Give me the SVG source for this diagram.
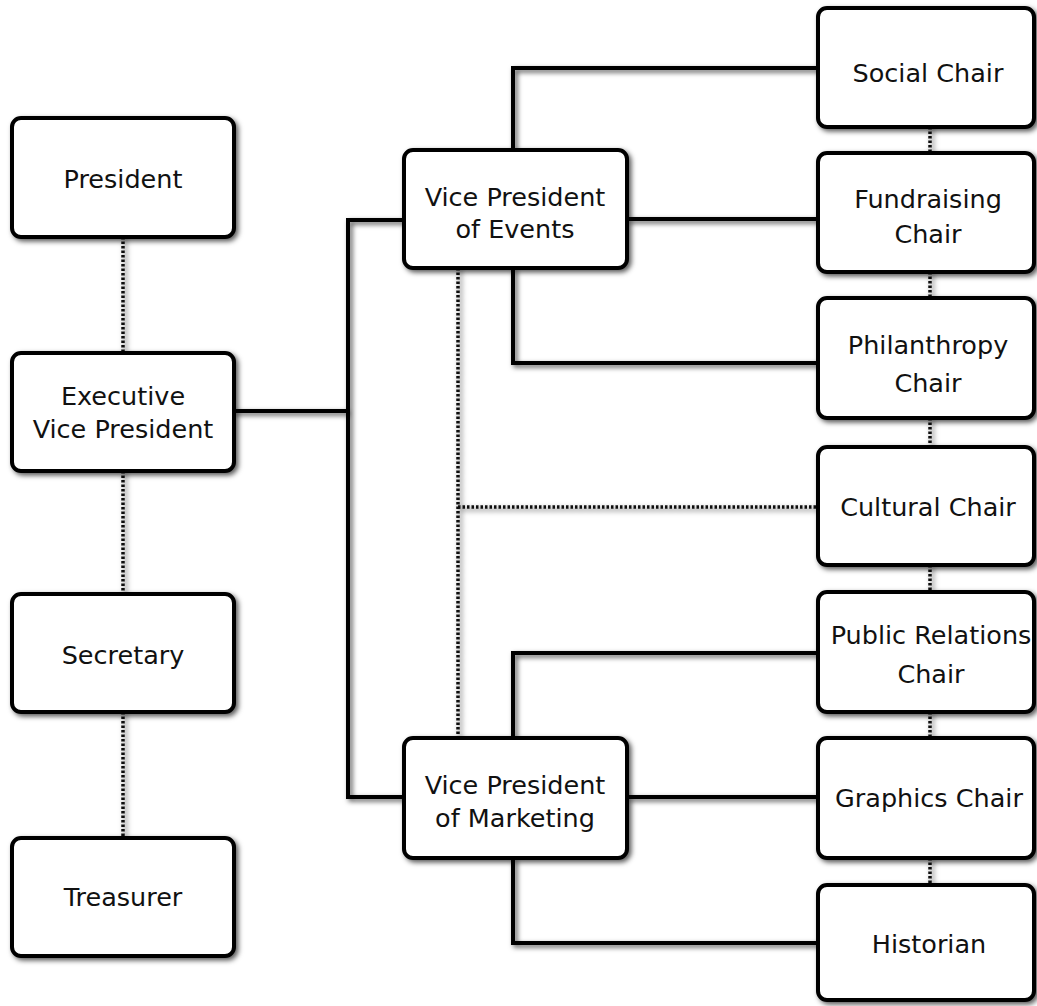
<svg xmlns="http://www.w3.org/2000/svg" width="1037" height="1006" viewBox="0 0 1037 1006">
<defs>
<filter id="sh" x="-10%" y="-10%" width="130%" height="130%">
<feDropShadow dx="2.5" dy="2.5" stdDeviation="2.5" flood-color="#000" flood-opacity="0.65"/>
</filter>
</defs>
<style>
.box{fill:#fff;stroke:#000;stroke-width:4}
.t{font-family:"DejaVu Sans",sans-serif;font-size:25.5px;fill:#111;text-anchor:middle;dominant-baseline:central}
.solid{fill:none;stroke:#000;stroke-width:4;stroke-linecap:square;stroke-linejoin:miter}
.dot{fill:none;stroke:#111;stroke-width:3.5;stroke-dasharray:2.5 2}
</style>
<rect width="1037" height="1006" fill="#fff"/>
<g id="connectors" filter="url(#sh)">
<path class="dot" d="M123 237V353M123 471V594M123 712V838"/>
<path class="dot" d="M930 127V153M930 272V298M930 418V447M930 565V592M930 712V738M930 858V885"/>
<path class="dot" d="M458 268V738M458 507H818"/>
<path class="solid" d="M235 411H348M348 220V797M348 220H403M348 797H403"/>
<path class="solid" d="M513 148V68H816M629 219H816M513 270V363H816"/>
<path class="solid" d="M513 736V653H816M629 797H816M513 860V943H816"/>
</g>
<g id="president"><rect class="box" x="12" y="118" width="222" height="119" rx="9" filter="url(#sh)"/><text class="t" x="123" y="179">President</text></g>
<g id="evp"><rect class="box" x="12" y="353" width="222" height="118" rx="9" filter="url(#sh)"/><text class="t" x="123" y="396">Executive</text><text class="t" x="123" y="429">Vice President</text></g>
<g id="secretary"><rect class="box" x="12" y="594" width="222" height="118" rx="9" filter="url(#sh)"/><text class="t" x="123" y="655">Secretary</text></g>
<g id="treasurer"><rect class="box" x="12" y="838" width="222" height="118" rx="9" filter="url(#sh)"/><text class="t" x="123" y="897">Treasurer</text></g>
<g id="vp-events"><rect class="box" x="404" y="150" width="223" height="118" rx="9" filter="url(#sh)"/><text class="t" x="515" y="197">Vice President</text><text class="t" x="515" y="229">of Events</text></g>
<g id="vp-marketing"><rect class="box" x="404" y="738" width="223" height="120" rx="9" filter="url(#sh)"/><text class="t" x="515" y="785">Vice President</text><text class="t" x="515" y="818">of Marketing</text></g>
<g id="social"><rect class="box" x="818" y="8" width="216" height="119" rx="9" filter="url(#sh)"/><text class="t" x="928" y="73">Social Chair</text></g>
<g id="fundraising"><rect class="box" x="818" y="153" width="216" height="119" rx="9" filter="url(#sh)"/><text class="t" x="928" y="199">Fundraising</text><text class="t" x="928" y="234">Chair</text></g>
<g id="philanthropy"><rect class="box" x="818" y="298" width="216" height="120" rx="9" filter="url(#sh)"/><text class="t" x="928" y="345">Philanthropy</text><text class="t" x="928" y="383">Chair</text></g>
<g id="cultural"><rect class="box" x="818" y="447" width="216" height="118" rx="9" filter="url(#sh)"/><text class="t" x="928" y="507">Cultural Chair</text></g>
<g id="public-relations"><rect class="box" x="818" y="592" width="216" height="120" rx="9" filter="url(#sh)"/><text class="t" x="931" y="635">Public Relations</text><text class="t" x="931" y="674">Chair</text></g>
<g id="graphics"><rect class="box" x="818" y="738" width="216" height="120" rx="9" filter="url(#sh)"/><text class="t" x="929" y="798">Graphics Chair</text></g>
<g id="historian"><rect class="box" x="818" y="885" width="216" height="115" rx="9" filter="url(#sh)"/><text class="t" x="929" y="944">Historian</text></g>
</svg>
